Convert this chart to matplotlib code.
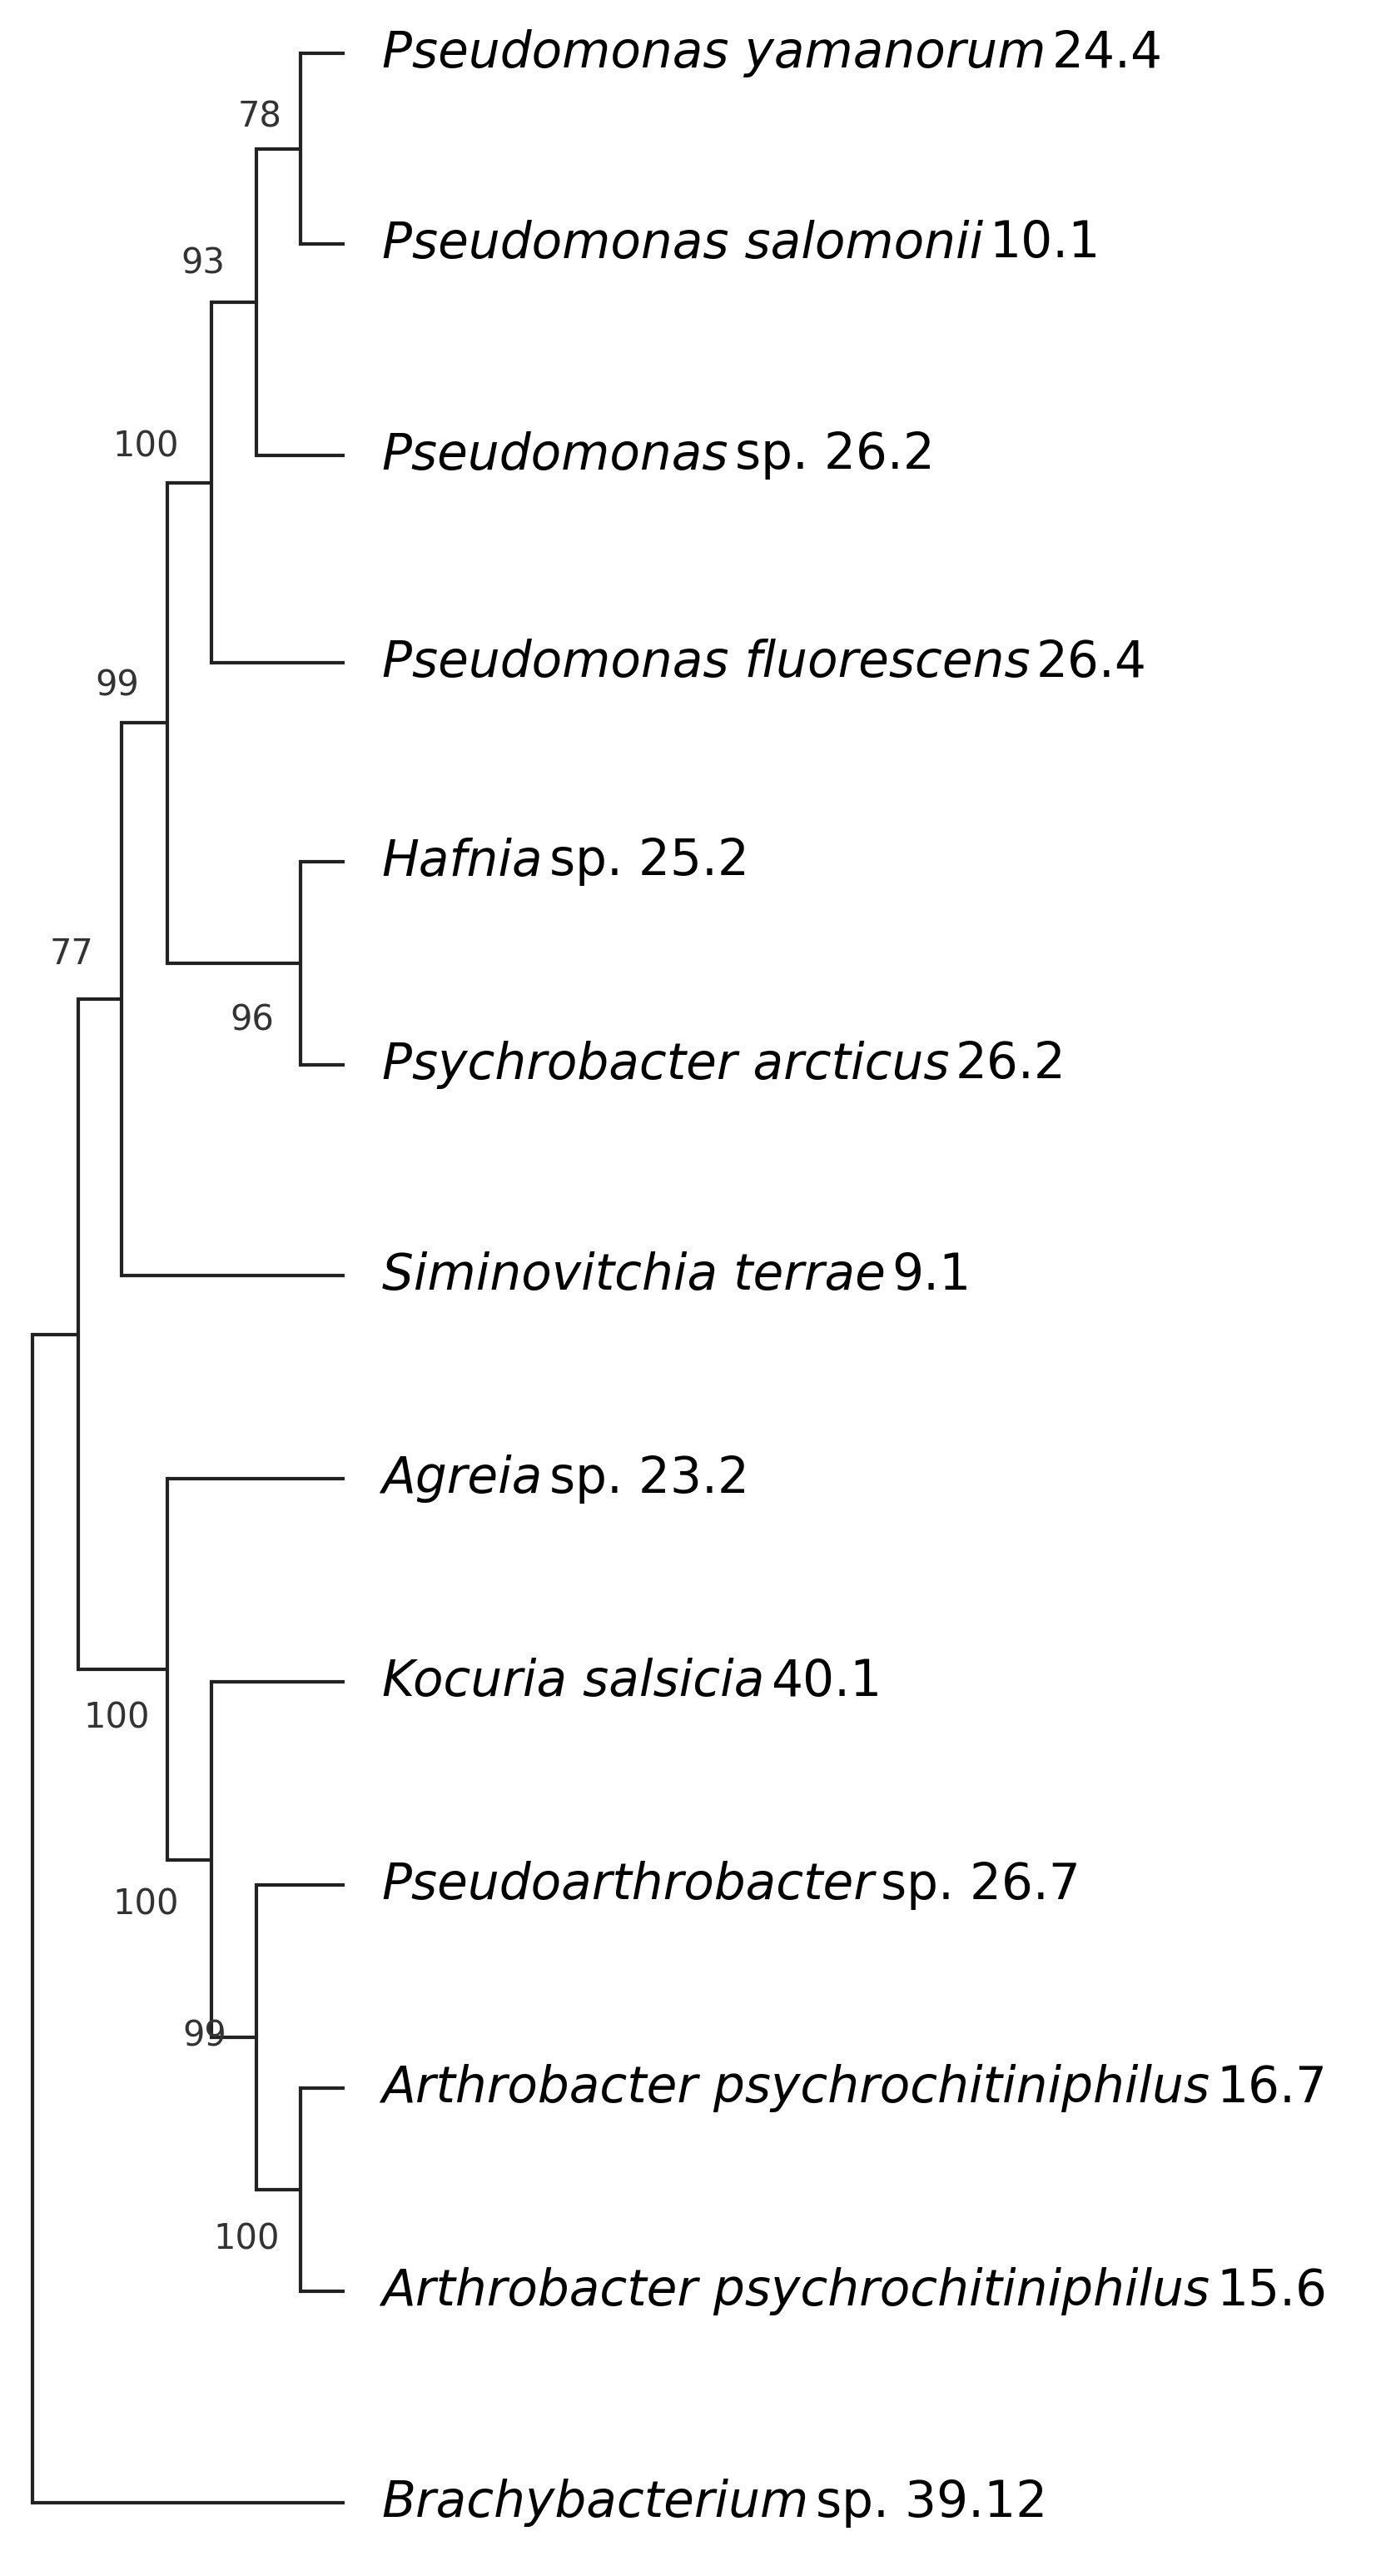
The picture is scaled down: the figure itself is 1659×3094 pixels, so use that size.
import matplotlib.pyplot as plt

# leaves: italic part, plain part
leaf_italic = ["Pseudomonas yamanorum", "Pseudomonas salomonii", "Pseudomonas", "Pseudomonas fluorescens",
               "Hafnia", "Psychrobacter arcticus", "Siminovitchia terrae", "Agreia", "Kocuria salsicia",
               "Pseudoarthrobacter", "Arthrobacter psychrochitiniphilus", "Arthrobacter psychrochitiniphilus",
               "Brachybacterium"]
leaf_plain = ["24.4", "10.1", "sp. 26.2", "26.4", "sp. 25.2", "26.2", "9.1", "sp. 23.2", "40.1",
              "sp. 26.7", "16.7", "15.6", "sp. 39.12"]
leaf_y = [33, 150, 280, 408, 530, 655, 785, 910, 1035, 1160, 1285, 1410, 1540]
leaf_x = 212

# internal nodes: name, depth, children, bootstrap
node_names = ["A", "B", "C", "D", "E", "F", "G", "H", "I", "J", "K", "R"]
node_depth = [185, 158, 130, 185, 103, 75, 185, 158, 130, 103, 48, 20]
node_children = [(0, 1), ("A", 2), ("B", 3), (4, 5), ("C", "D"), ("E", 6),
                 (10, 11), (9, "G"), (8, "H"), (7, "I"), ("F", "J"), ("K", 12)]
node_support = ["78", "93", "100", "96", "99", "77", "100", "99", "100", "100", "", ""]
support_pos = [(160, 72), (125, 162), (90, 275), (155, 628), (72, 422), (44, 587),
               (152, 1378), (126, 1253), (90, 1172), (72, 1057), (0, 0), (0, 0)]

fig = plt.figure(figsize=(16.59, 30.94), dpi=100)
ax = fig.add_axes([0, 0, 1, 1])
ax.set_xlim(0, 850)
ax.set_ylim(1585, 0)
ax.axis("off")

pos = {}
for i, y in enumerate(leaf_y):
    pos[i] = (leaf_x, y)
lw = 3
for name, d, ch, sup, sp in zip(node_names, node_depth, node_children, node_support, support_pos):
    ys = []
    for c in ch:
        cx, cy = pos[c]
        ax.plot([d, cx], [cy, cy], color="#222222", lw=lw, solid_capstyle="butt")
        ys.append(cy)
    ax.plot([d, d], [min(ys), max(ys)], color="#222222", lw=lw, solid_capstyle="projecting")
    pos[name] = (d, sum(ys) / 2)
    if sup:
        ax.text(sp[0], sp[1], sup, fontsize=30, color="#333333", ha="center", va="center")

fig.canvas.draw()
r = fig.canvas.get_renderer()
inv = ax.transData.inverted()
for it, pl, y in zip(leaf_italic, leaf_plain, leaf_y):
    t = ax.text(235, y, it, fontsize=43, style="italic", va="center", ha="left", color="black")
    bb = t.get_window_extent(r)
    x2 = inv.transform((bb.x1, bb.y0))[0]
    ax.text(x2 + 4, y, pl, fontsize=43, va="center", ha="left", color="black")

fig.savefig("out.png", dpi=100)
